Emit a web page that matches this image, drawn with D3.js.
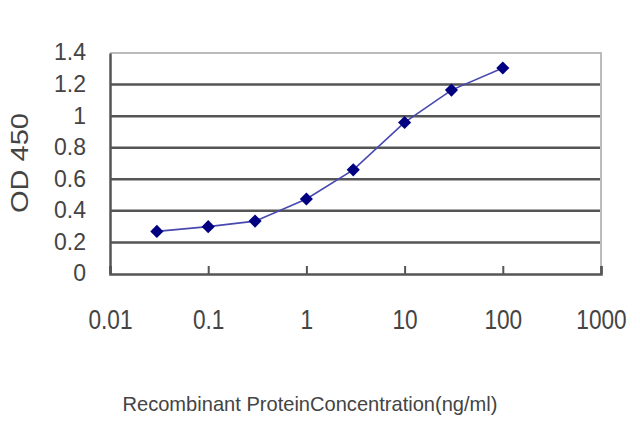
<!DOCTYPE html>
<html>
<head>
<meta charset="utf-8">
<script src="https://cdn.jsdelivr.net/npm/d3@7"></script>
<style>
  body { margin: 0; background: #fff; }
  text { font-family: "Liberation Sans", Arial, sans-serif; fill: #444; }
</style>
</head>
<body>
<div id="chart"></div>
<script>
const w = 640;
const h = 427;
const margin = { top: 53, right: 39, bottom: 153, left: 110 };

// concentrations (ng/ml) and OD 450 readings
const conc = [0.03, 0.1, 0.3, 1, 3, 10, 30, 100];
const od = [0.27, 0.3, 0.335, 0.475, 0.66, 0.96, 1.165, 1.305];
const xTicks = [0.01, 0.1, 1, 10, 100, 1000];
const xTickLabels = ["0.01", "0.1", "1", "10", "100", "1000"];
const yTicks = [0, 0.2, 0.4, 0.6, 0.8, 1, 1.2, 1.4];
const yTickLabels = ["0", "0.2", "0.4", "0.6", "0.8", "1", "1.2", "1.4"];

const data = conc.map((c, i) => ({ x: c, y: od[i] }));

const xScale = d3.scaleLog()
    .domain([0.01, 1000])
    .range([margin.left, w - margin.right]);

const yScale = d3.scaleLinear()
    .domain([0, 1.4])
    .range([h - margin.bottom, margin.top]);

const svg = d3.select("#chart")
    .append("svg")
    .attr("width", w)
    .attr("height", h);

// gridlines
svg.append("g")
    .selectAll("line")
    .data(yTicks.slice(1, -1))
    .enter()
    .append("line")
    .attr("x1", margin.left)
    .attr("x2", w - margin.right)
    .attr("y1", d => yScale(d))
    .attr("y2", d => yScale(d))
    .attr("stroke", "#555")
    .attr("stroke-width", 2.5);

// top and right border
svg.append("path")
    .attr("d", `M${margin.left},${yScale(1.4)}H${w - margin.right}V${yScale(0)}`)
    .attr("fill", "none")
    .attr("stroke", "#bbb")
    .attr("stroke-width", 2);

// y axis
const yAxis = d3.axisLeft(yScale)
    .tickValues(yTicks)
    .tickSize(0)
    .tickPadding(24)
    .tickFormat((d, i) => yTickLabels[i]);

const gy = svg.append("g")
    .attr("transform", `translate(${margin.left},0)`)
    .call(yAxis);
gy.select(".domain").attr("stroke", "#555").attr("stroke-width", 2.5);
gy.selectAll("text")
    .attr("font-size", 23)
    .attr("fill", "#444")
    .attr("dy", "0.3em");

// x axis, ticks point up into the plot
const xAxis = d3.axisBottom(xScale)
    .tickValues(xTicks)
    .tickSize(-8)
    .tickPadding(36)
    .tickFormat((d, i) => xTickLabels[i]);

const gx = svg.append("g")
    .attr("transform", `translate(0,${h - margin.bottom})`)
    .call(xAxis);
gx.select(".domain").attr("stroke", "#555").attr("stroke-width", 2.5);
gx.selectAll(".tick line").attr("stroke", "#555").attr("stroke-width", 2);
// narrow, tall labels like the original
gx.selectAll("text")
    .attr("font-size", 27)
    .attr("fill", "#444")
    .attr("transform", "scale(0.84,1)");

// line
const line = d3.line()
    .x(d => xScale(d.x))
    .y(d => yScale(d.y));

svg.append("path")
    .datum(data)
    .attr("d", line)
    .attr("fill", "none")
    .attr("stroke", "#4848b0")
    .attr("stroke-width", 1.6);

// diamond markers
svg.append("g")
    .selectAll("path")
    .data(data)
    .enter()
    .append("path")
    .attr("d", d3.symbol().type(d3.symbolDiamond2).size(110))
    .attr("transform", d => `translate(${xScale(d.x)},${yScale(d.y)})`)
    .attr("fill", "#000080");

// axis titles
svg.append("text")
    .attr("transform", "translate(28,163) rotate(-90)")
    .attr("text-anchor", "middle")
    .attr("font-size", 23)
    .attr("textLength", 100)
    .attr("lengthAdjust", "spacingAndGlyphs")
    .text("OD 450");

svg.append("text")
    .attr("x", 310)
    .attr("y", 411)
    .attr("text-anchor", "middle")
    .attr("font-size", 21)
    .attr("textLength", 375)
    .attr("lengthAdjust", "spacingAndGlyphs")
    .text("Recombinant ProteinConcentration(ng/ml)");
</script>
</body>
</html>
